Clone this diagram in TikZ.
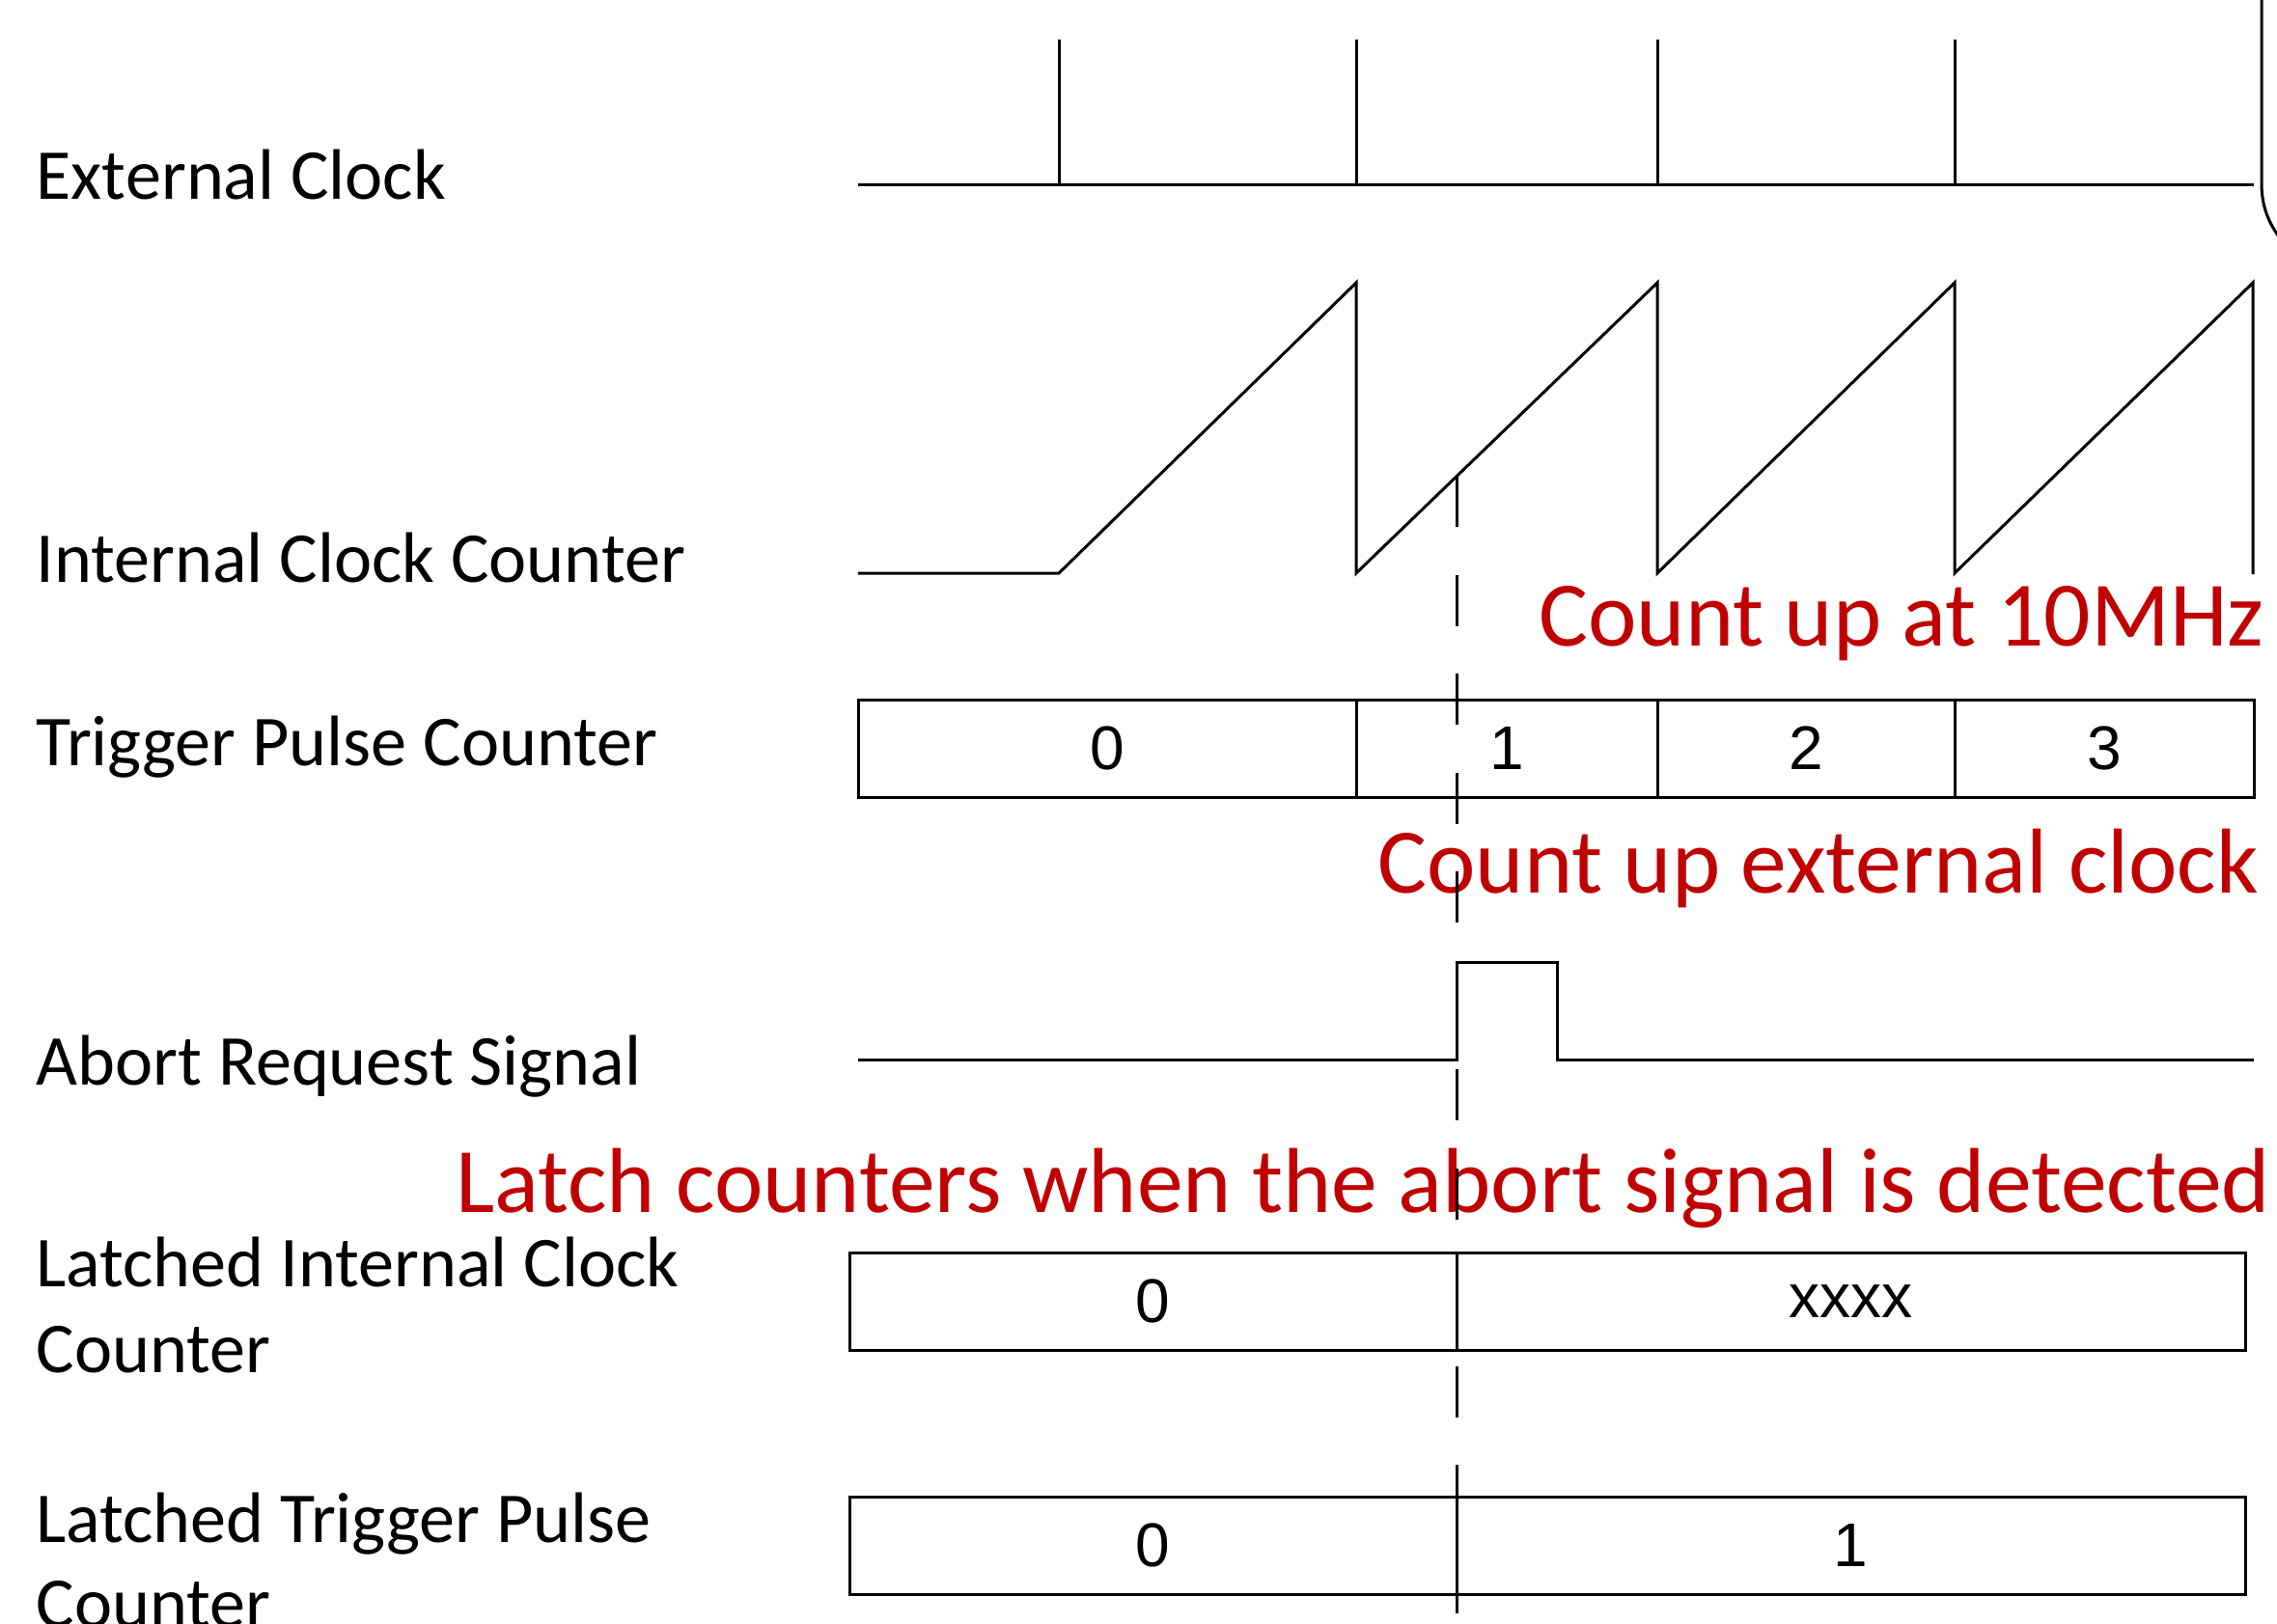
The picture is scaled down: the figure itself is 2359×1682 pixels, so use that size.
\documentclass[tikz,border=0pt]{standalone}
\usepackage{fontspec}
\setmainfont{Carlito}
\newfontfamily\numfont{Liberation Sans}
\definecolor{annot}{HTML}{C00000}
\begin{document}
\begin{tikzpicture}[x=0.5pt,y=-0.5pt, line width=1.5pt,
  lbl/.style={anchor=base west, inner sep=0pt, font=\fontsize{37.1}{44.5}\selectfont},
  note/.style={anchor=base west, inner sep=0pt, text=annot, font=\fontsize{47.8}{57}\selectfont},
  cell/.style={draw, line width=1.5pt, inner sep=0pt, minimum height=50.5pt, font=\numfont\fontsize{32}{38}\selectfont},
  sig/.style={line width=1.5pt, line join=miter},
  latchline/.style={line width=1.5pt, dash pattern=on 26.5pt off 24.75pt}]
\useasboundingbox (0,0) rectangle (2359,1682);

% signal labels
\node[lbl] (lext) at (36,206) {External Clock};
\node[lbl] (lint) at (36,603) {Internal Clock Counter};
\node[lbl] (ltrg) at (36,793) {Trigger Pulse Counter};
\node[lbl] (labt) at (36,1124) {Abort Request Signal};
\node[lbl] (lli1) at (36,1333) {Latched Internal Clock};
\node[lbl] (lli2) at (36,1422) {Counter};
\node[lbl] (llt1) at (36,1598) {Latched Trigger Pulse};
\node[lbl] (llt2) at (36,1686) {Counter};

% external clock
\draw[sig] (889,191) -- (2335,191);
\foreach \xx in {1097,1405,1717,2025} \draw[sig] (\xx,41) -- (\xx,191);
% partial rounded frame at right edge
\draw[line width=1.5pt] (2343,-5) -- (2343,190) .. controls (2343,212) and (2349,228) .. (2360,244);

% internal clock counter
\draw[sig] (889,594) -- (1097,594) -- (1405,293) -- (1405,594) -- (1717,293) -- (1717,594)
  -- (2025,293) -- (2025,594) -- (2334,293) -- (2334,595);

% trigger pulse counter
\node[cell, minimum width=258pt] (t0) at (1147,775.5) {0};
\node[cell, minimum width=156pt] (t1) at (1561,775.5) {1};
\node[cell, minimum width=154pt] (t2) at (1871,775.5) {2};
\node[cell, minimum width=155pt] (t3) at (2180,775.5) {3};

% abort request
\draw[sig] (889,1098) -- (1509,1098) -- (1509,997) -- (1613,997) -- (1613,1098) -- (2335,1098);

% latched internal clock counter
\node[cell, minimum width=314.5pt] (l0) at (1194.5,1348.5) {0};
\node[cell, minimum width=408.5pt] (l1) at (1917.5,1348.5) {xxxx};

% latched trigger pulse counter
\node[cell, minimum width=314.5pt] (m0) at (1194.5,1601.5) {0};
\node[cell, minimum width=408.5pt] (m1) at (1917.5,1601.5) {1};

% annotations
\node[note] (n1) at (1593,669) {Count up at 10MHz};
\node[note] (n2) at (1426,925) {Count up external clock};
\node[note] (n3) at (471,1256) {Latch counters when the abort signal is detected};

% latch instant
\coordinate (dtop) at (1509,493);
\coordinate (dbot) at (1509,1672);
\draw[latchline] (dtop) -- (dbot);
\end{tikzpicture}
\end{document}
